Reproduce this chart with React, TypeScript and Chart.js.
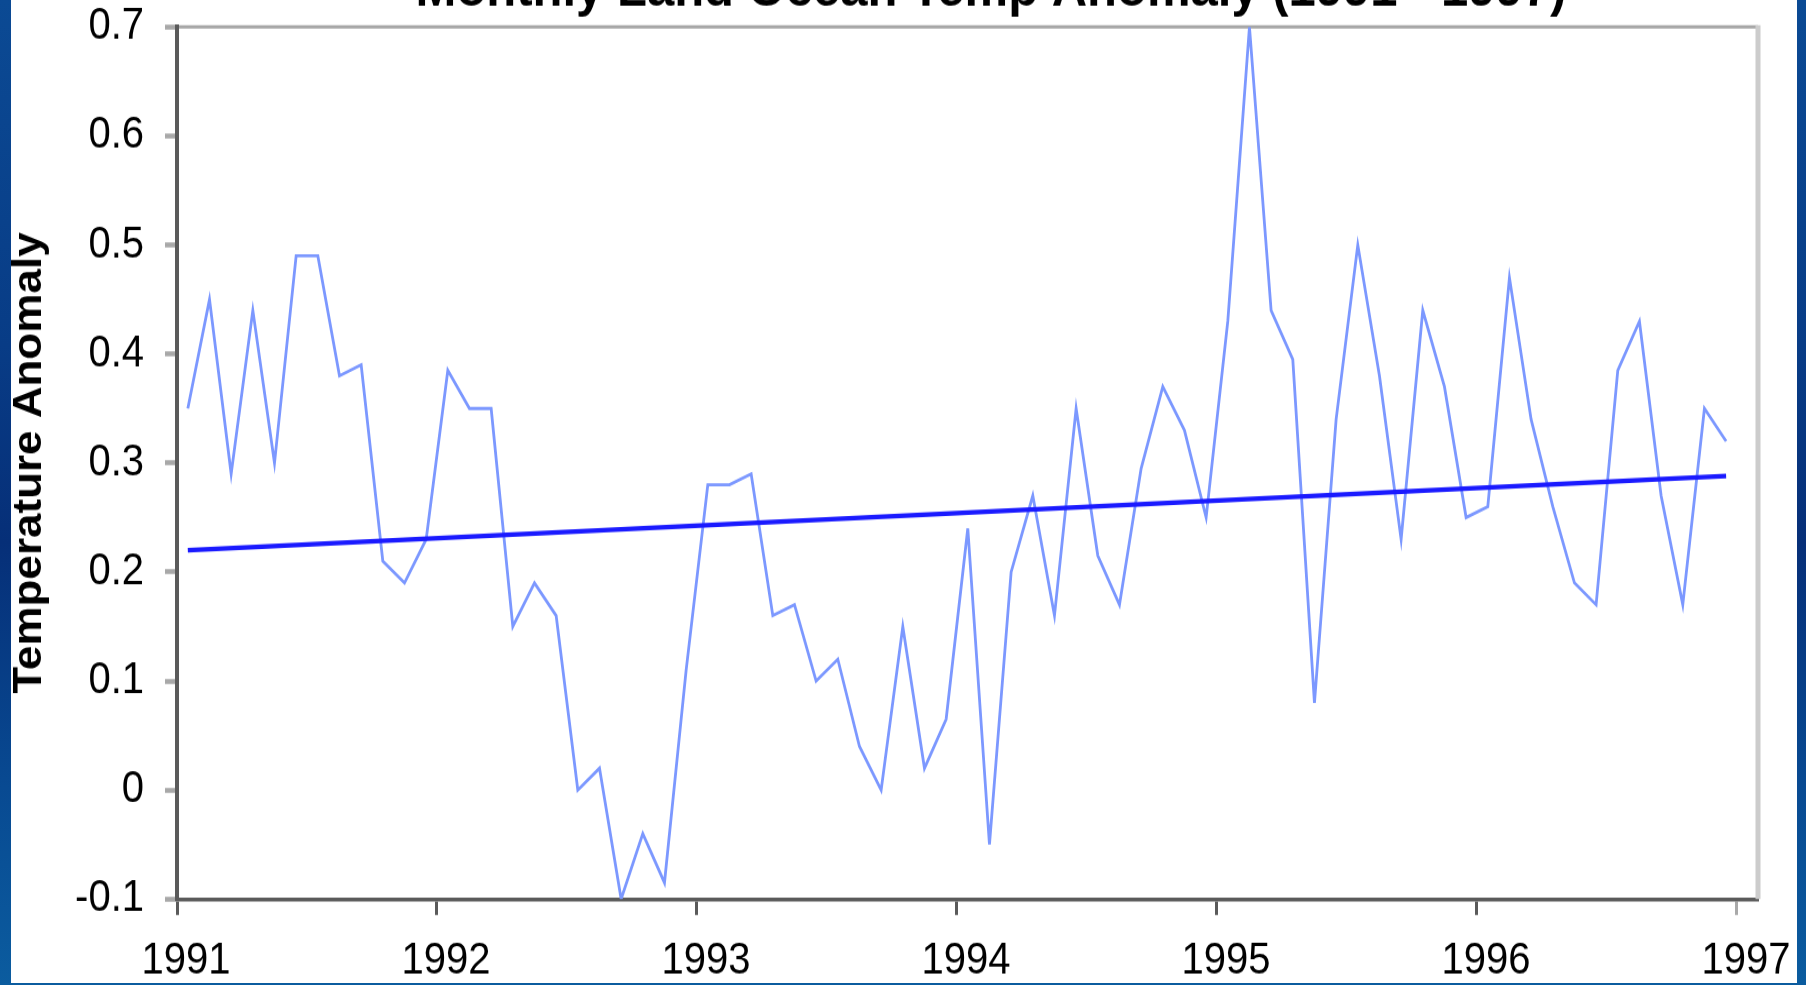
import React, { useEffect, useRef } from "react";
import { Chart, registerables } from "chart.js";

Chart.register(...registerables);

// ---- Data ----
const years = [1991, 1992, 1993, 1994, 1995, 1996];
const anomaly1991 = [0.35, 0.45, 0.29, 0.44, 0.30, 0.49, 0.49, 0.38, 0.39, 0.21, 0.19, 0.23];
const anomaly1992 = [0.385, 0.35, 0.35, 0.15, 0.19, 0.16, 0.0, 0.02, -0.1, -0.04, -0.085, 0.11];
const anomaly1993 = [0.28, 0.28, 0.29, 0.16, 0.17, 0.10, 0.12, 0.04, 0.0, 0.15, 0.02, 0.065];
const anomaly1994 = [0.24, -0.05, 0.20, 0.27, 0.16, 0.35, 0.215, 0.17, 0.295, 0.37, 0.33, 0.25];
const anomaly1995 = [0.43, 0.70, 0.44, 0.395, 0.08, 0.34, 0.50, 0.38, 0.23, 0.44, 0.37, 0.25];
const anomaly1996 = [0.26, 0.47, 0.34, 0.26, 0.19, 0.17, 0.385, 0.43, 0.27, 0.17, 0.35, 0.32];
const anomalyByYear = [anomaly1991, anomaly1992, anomaly1993, anomaly1994, anomaly1995, anomaly1996];
const trendValues = [0.22, 0.288]; // linear trend at first and last month
const xTickValues = [1991, 1992, 1993, 1994, 1995, 1996, 1997];
const yTickValues = [-0.1, 0, 0.1, 0.2, 0.3, 0.4, 0.5, 0.6, 0.7];

const TITLE = "Monthly Land Ocean Temp Anomaly (1991 - 1997)";
const Y_TITLE = "Temperature Anomaly";

// ---- Layout / style constants ----
const FONT = "'Liberation Sans', Arial, Helvetica, sans-serif";
const PAGE_W = 1806;
const PAGE_H = 985;
const STRETCH = 1.1; // vertical stretch of the original picture
const TOP_OFFSET = 46; // title is cut off at the top
const CANVAS_H = 942; // internal canvas height

const framePlugin = {
  id: "frame",
  beforeDatasetsDraw(chart: any) {
    const { ctx, chartArea: a } = chart;
    ctx.save();
    ctx.lineCap = "butt";
    ctx.strokeStyle = "#a6a6a6";
    ctx.lineWidth = 3;
    ctx.beginPath();
    ctx.moveTo(a.left + 2, a.top);
    ctx.lineTo(a.right, a.top);
    ctx.stroke();
    ctx.strokeStyle = "#cccccc";
    ctx.lineWidth = 5;
    ctx.beginPath();
    ctx.moveTo(a.right, a.top - 1.5);
    ctx.lineTo(a.right, a.bottom);
    ctx.stroke();
    ctx.restore();
  },
};

const titleShiftPlugin = {
  id: "titleShift",
  afterLayout(chart: any) {
    const t = chart.titleBlock;
    if (t) {
      t.left += 112;
      t.right += 112;
    }
  },
};

export default function App() {
  const ref = useRef<HTMLCanvasElement | null>(null);

  useEffect(() => {
    const canvas = ref.current;
    if (!canvas) return;

    const anomalyPoints = years.flatMap((yr, yi) =>
      anomalyByYear[yi].map((v, m) => ({ x: yr + (m + 0.5) / 12, y: v }))
    );
    const first = anomalyPoints[0];
    const last = anomalyPoints[anomalyPoints.length - 1];
    const trendPoints = [
      { x: first.x, y: trendValues[0] },
      { x: last.x, y: trendValues[1] },
    ];

    const chart = new Chart(canvas, {
      type: "line",
      data: {
        datasets: [
          {
            label: "Monthly anomaly",
            data: anomalyPoints,
            borderColor: "rgb(124,152,255)",
            borderWidth: 2.8,
            pointRadius: 0,
            tension: 0,
            fill: false,
            order: 1,
          },
          {
            label: "Trend",
            data: trendPoints,
            borderColor: "#1a1aff",
            borderWidth: 4.2,
            pointRadius: 0,
            tension: 0,
            fill: false,
            order: 0,
          },
        ],
      },
      options: {
        responsive: false,
        maintainAspectRatio: false,
        animation: false,
        devicePixelRatio: 1,
        events: [],
        layout: { padding: { left: 0, right: 48, top: 0, bottom: 0 } },
        plugins: {
          legend: { display: false },
          tooltip: { enabled: false },
          title: {
            display: true,
            text: TITLE,
            color: "#000",
            font: { family: FONT, size: 49, weight: "bold" },
            padding: { top: 3.6, bottom: 3.9 },
          },
        },
        scales: {
          x: {
            type: "linear",
            min: 1991,
            max: 1997.081,
            afterBuildTicks: (s: any) => {
              s.ticks = xTickValues.map((v) => ({ value: v }));
            },
            afterFit: (s: any) => {
              s.height = 82.7;
            },
            ticks: {
              autoSkip: false,
              maxRotation: 0,
              minRotation: 0,
              padding: 18,
              labelOffset: 9,
              color: "#000",
              font: { family: FONT, size: 40 },
              callback: (v: any) => String(v),
            },
            grid: {
              display: true,
              drawOnChartArea: false,
              drawTicks: true,
              tickLength: 14.5,
              tickWidth: 3,
              tickColor: (ctx: any) =>
                ctx.tick && ctx.tick.value === 1997 ? "#a9a9a9" : "#5a5a5a",
            },
            border: { display: true, color: "#5a5a5a", width: 3.5 },
          },
          y: {
            type: "linear",
            min: -0.1,
            max: 0.7,
            afterBuildTicks: (s: any) => {
              s.ticks = yTickValues.map((v) => ({ value: v }));
            },
            afterFit: (s: any) => {
              s.width = 177;
            },
            ticks: {
              padding: 21,
              color: "#000",
              font: { family: FONT, size: 40 },
              callback: (v: any) =>
                Math.abs(Number(v)) < 1e-9 ? "0" : Number(v).toFixed(1),
            },
            grid: {
              display: true,
              drawOnChartArea: false,
              drawTicks: true,
              tickLength: 12,
              tickWidth: 4.5,
              tickColor: "#a8a8a8",
            },
            border: { display: true, color: "#5a5a5a", width: 4 },
            title: {
              display: true,
              text: Y_TITLE,
              color: "#000",
              font: { family: FONT, size: 40, weight: "bold" },
              padding: { top: 6, bottom: 0 },
            },
          },
        },
      },
      plugins: [framePlugin, titleShiftPlugin],
    } as any);

    return () => {
      chart.destroy();
    };
  }, []);

  return (
    <div
      style={{
        position: "fixed",
        left: 0,
        top: 0,
        width: PAGE_W,
        height: PAGE_H,
        overflow: "hidden",
        background:
          "linear-gradient(to bottom, #0b4a94 0%, #083c86 35%, #062f78 55%, #084a92 80%, #0b5c9f 100%)",
      }}
    >
      <div
        style={{
          position: "absolute",
          left: 11,
          top: 0,
          width: 1786,
          height: 983,
          background: "#ffffff",
        }}
      />
      <canvas
        ref={ref}
        width={PAGE_W}
        height={CANVAS_H}
        style={{
          position: "absolute",
          left: 0,
          top: -TOP_OFFSET,
          width: PAGE_W + "px",
          height: CANVAS_H * STRETCH + "px",
          display: "block",
        }}
      />
    </div>
  );
}
